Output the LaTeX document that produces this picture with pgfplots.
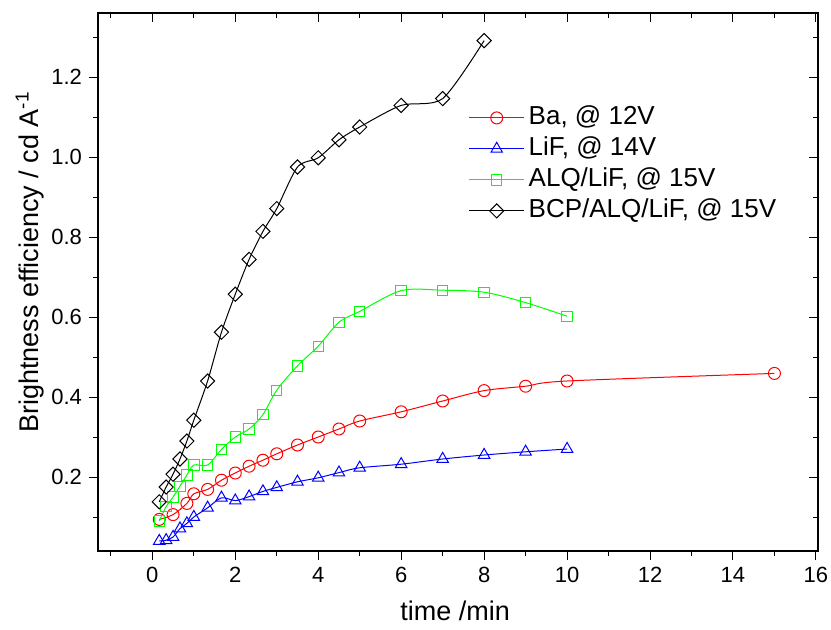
\documentclass[border=0pt]{standalone}
\usepackage{fontspec}
\setmainfont{Liberation Sans}
\usepackage{pgfplots}
\pgfplotsset{compat=1.18}
\definecolor{cred}{rgb}{1,0,0}
\definecolor{cblue}{rgb}{0,0,1}
\definecolor{cgreen}{rgb}{0,1,0}
\begin{document}
\begin{tikzpicture}
\pgfplotsset{common/.style={
  scale only axis, width=360pt, height=269pt,
  xmin=-1.31, xmax=16.05, ymin=0.015, ymax=1.36,
  xtick={0,2,4,6,8,10,12,14,16}, minor xtick={-1,1,3,5,7,9,11,13,15},
  ytick={0.2,0.4,0.6,0.8,1.0,1.2}, minor ytick={0.1,0.3,0.5,0.7,0.9,1.1,1.3},
  major tick length=4.5pt, minor tick length=2.5pt,
  every tick/.style={black, line width=0.5pt},
  axis line style={line width=0.6pt},
}}
\begin{axis}[common, name=ax,
  xtick pos=bottom, ytick pos=left, tick align=outside,
  /pgf/number format/assume math mode=true,
  tick label style={font=\fontsize{11}{13}\selectfont},
  yticklabel style={/pgf/number format/.cd, fixed, fixed zerofill, precision=1},
  xlabel={time /min}, ylabel={Brightness efficiency / cd A\textsuperscript{-1}},
  label style={font=\fontsize{13.5}{16}\selectfont},
  xlabel style={at={(axis description cs:0.496,-0.1115)}, anchor=center},
  ylabel style={at={(axis description cs:-0.0944,0.537)}, anchor=center, rotate=0},
  legend style={at={(axis description cs:0.506,0.842)}, anchor=north west, draw=none, fill=none,
    font=\fontsize{13}{15.5}\selectfont, row sep=0pt,
    nodes={text height=9.5pt, text depth=2.5pt, inner ysep=1.75pt}},
  legend cell align=left,
  legend image code/.code={\draw[#1, mark=none] (0pt,0pt) -- (27.5pt,0pt);
     \draw[#1, only marks] plot coordinates {(13.75pt,0pt)};},
  every axis plot/.append style={line width=0.5pt, smooth, mark options={solid, fill=white, line width=0.5pt}},
]
\addplot[cred, mark=o, mark size=3pt] coordinates {
(0.167,0.094)(0.5,0.106)(0.833,0.134)(1,0.158)(1.333,0.169)(1.667,0.192)(2,0.210)(2.333,0.227)(2.667,0.242)(3,0.258)(3.5,0.280)(4,0.300)(4.5,0.320)(5,0.340)(6,0.363)(7,0.390)(8,0.416)(9,0.427)(10,0.440)(15,0.459)};
\addlegendentry{Ba, @ 12V}
\addplot[cblue, mark=triangle, mark size=3.3pt] coordinates {
(0.167,0.040)(0.333,0.042)(0.5,0.050)(0.667,0.071)(0.833,0.084)(1,0.100)(1.333,0.123)(1.667,0.148)(2,0.141)(2.333,0.151)(2.667,0.164)(3,0.174)(3.5,0.188)(4,0.198)(4.5,0.211)(5,0.223)(6,0.232)(7,0.245)(8,0.255)(9,0.263)(10,0.270)};
\addlegendentry{LiF, @ 14V}
\addplot[cgreen, mark=square, mark size=2.6pt] coordinates {
(0.167,0.090)(0.333,0.126)(0.5,0.150)(0.667,0.177)(0.833,0.205)(1,0.230)(1.333,0.230)(1.667,0.269)(2,0.300)(2.333,0.320)(2.667,0.356)(3,0.417)(3.5,0.478)(4,0.527)(4.5,0.587)(5,0.614)(6,0.666)(7,0.667)(8,0.662)(9,0.636)(10,0.602)};
\addlegendentry{ALQ/LiF, @ 15V}
\addplot[black, mark=square, mark size=2.5pt, mark options={rotate=45}, tension=0.45] coordinates {
(0.167,0.138)(0.333,0.175)(0.5,0.207)(0.667,0.245)(0.833,0.290)(1,0.342)(1.333,0.440)(1.667,0.562)(2,0.657)(2.333,0.744)(2.667,0.814)(3,0.871)(3.5,0.975)(4,0.998)(4.5,1.043)(5,1.075)(6,1.129)(7,1.146)(8,1.291)};
\addlegendentry{BCP/ALQ/LiF, @ 15V}
\end{axis}
\begin{axis}[common, xtick pos=top, ytick pos=right, tick align=inside,
  xticklabels={}, yticklabels={}, axis line style={draw=none}]
\end{axis}
\pgfresetboundingbox
\path (ax.south west) ++(-49pt,-39pt) rectangle ([shift={(6.5pt,6.5pt)}]ax.north east);
\end{tikzpicture}
\end{document}
